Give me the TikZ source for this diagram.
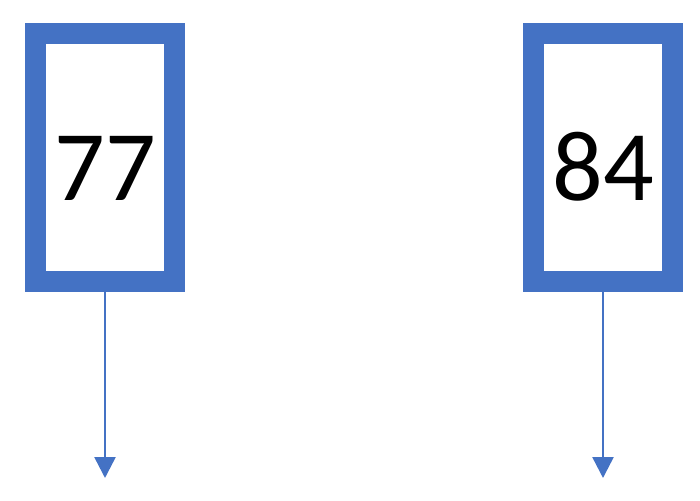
\documentclass[tikz,border=0pt]{standalone}
\usepackage{fontspec}
\setmainfont{Carlito}
\usetikzlibrary{arrows.meta}

\definecolor{boxblue}{RGB}{68,114,196}

\begin{document}
\begin{tikzpicture}[x=1pt,y=-1pt,>={Triangle[width=21pt,length=21pt]}]

\def\boxwidth{138.5}
\def\boxheight{247}
\def\arrowend{478}

\tikzset{
  cell/.style={draw=boxblue,line width=21pt,fill=white,inner sep=0pt,
    minimum width=\boxwidth pt,minimum height=\boxheight pt,
    font=\fontsize{100}{100}\selectfont,text height=85pt,text depth=0pt},
  pointer/.style={->,draw=boxblue,line width=2.5pt}
}

\useasboundingbox (0,0) rectangle (700,500);

% the two cells
\node[cell] (cellA) at (105,157.5) {77};
\node[cell] (cellB) at (603,157.5) {84};

% where the pointers end
\coordinate (endA) at (cellA.south |- 0,\arrowend);
\coordinate (endB) at (cellB.south |- 0,\arrowend);

\draw[pointer] (cellA.south) -- (endA);
\draw[pointer] (cellB.south) -- (endB);

\end{tikzpicture}
\end{document}
